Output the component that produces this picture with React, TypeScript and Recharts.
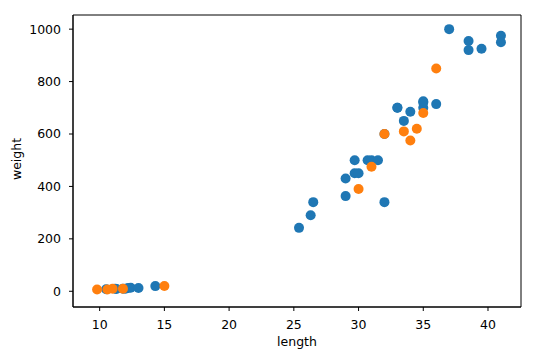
import React from 'react';
import {
  ScatterChart,
  Scatter,
  XAxis,
  YAxis,
  ReferenceArea,
} from 'recharts';

// train set (blue)
const trainLength = [
  25.4, 26.3, 26.5, 29.0, 29.0, 29.7, 29.7, 30.0, 30.7, 31.0, 31.5, 32.0, 32.0, 33.0,
  33.0, 33.5, 34.0, 35.0, 35.0, 35.0, 36.0, 37.0, 38.5, 38.5, 39.5, 41.0, 41.0,
  10.5, 11.2, 11.3, 11.8, 12.0, 12.2, 12.4, 13.0, 14.3,
];
const trainWeight = [
  242, 290, 340, 363, 430, 450, 500, 450, 500, 500, 500, 340, 600, 700,
  700, 650, 685, 700, 725, 720, 714, 1000, 920, 955, 925, 975, 950,
  7.5, 9.8, 8.7, 10.0, 9.8, 12.2, 13.4, 12.2, 19.7,
];

// test set (orange)
const testLength = [30.0, 31.0, 32.0, 33.5, 34.0, 34.5, 35.0, 36.0, 9.8, 10.6, 11.0, 11.8, 15.0];
const testWeight = [390, 475, 600, 610, 575, 620, 680, 850, 6.7, 7.0, 9.7, 9.9, 19.9];

const xTicks = [10, 15, 20, 25, 30, 35, 40];
const yTicks = [0, 200, 400, 600, 800, 1000];

const X_DOMAIN: [number, number] = [7.94, 42.55];
const Y_DOMAIN: [number, number] = [-60, 1054];

const train = trainLength.map((l, i) => ({ length: l, weight: trainWeight[i] }));
const test = testLength.map((l, i) => ({ length: l, weight: testWeight[i] }));

const FONT = "'DejaVu Sans', sans-serif";
const tickStyle = { fill: '#000', fontSize: 12.5, fontFamily: FONT };

const dot = (color: string) => (props: any) => (
  <circle cx={props.cx} cy={props.cy} r={5} fill={color} />
);

const XLabel = (props: any) => {
  const { x, y, width } = props.viewBox;
  return (
    <text x={x + width / 2} y={y + 39} textAnchor="middle" fontSize={12.5} fontFamily={FONT} fill="#000">
      length
    </text>
  );
};

const YLabel = (props: any) => {
  const { y, height } = props.viewBox;
  const cy = y + height / 2 - 2;
  return (
    <text x={21} y={cy} transform={`rotate(-90, 21, ${cy})`} textAnchor="middle" fontSize={12.5} fontFamily={FONT} fill="#000">
      weight
    </text>
  );
};

export default function App() {
  return (
    <div style={{ position: 'absolute', left: 0, top: 0, width: 552, height: 357, background: '#fff' }}>
      <ScatterChart width={552} height={357} margin={{ top: 15, right: 31, bottom: 0, left: 0 }}>
        <XAxis
          type="number"
          dataKey="length"
          domain={X_DOMAIN}
          ticks={xTicks}
          allowDataOverflow
          height={50}
          tickSize={4}
          tickMargin={9}
          tick={tickStyle}
          axisLine={{ stroke: '#000' }}
          tickLine={{ stroke: '#000' }}
          label={<XLabel />}
        />
        <YAxis
          type="number"
          dataKey="weight"
          domain={Y_DOMAIN}
          ticks={yTicks}
          allowDataOverflow
          width={73}
          tickSize={4}
          tickMargin={8}
          tick={tickStyle}
          axisLine={{ stroke: '#000' }}
          tickLine={{ stroke: '#000' }}
          label={<YLabel />}
        />
        <ReferenceArea
          x1={X_DOMAIN[0]}
          x2={X_DOMAIN[1]}
          y1={Y_DOMAIN[0]}
          y2={Y_DOMAIN[1]}
          fill="none"
          stroke="#000"
          strokeWidth={1}
          ifOverflow="visible"
        />
        <Scatter data={train} fill="#1f77b4" shape={dot('#1f77b4')} isAnimationActive={false} />
        <Scatter data={test} fill="#ff7f0e" shape={dot('#ff7f0e')} isAnimationActive={false} />
      </ScatterChart>
    </div>
  );
}
